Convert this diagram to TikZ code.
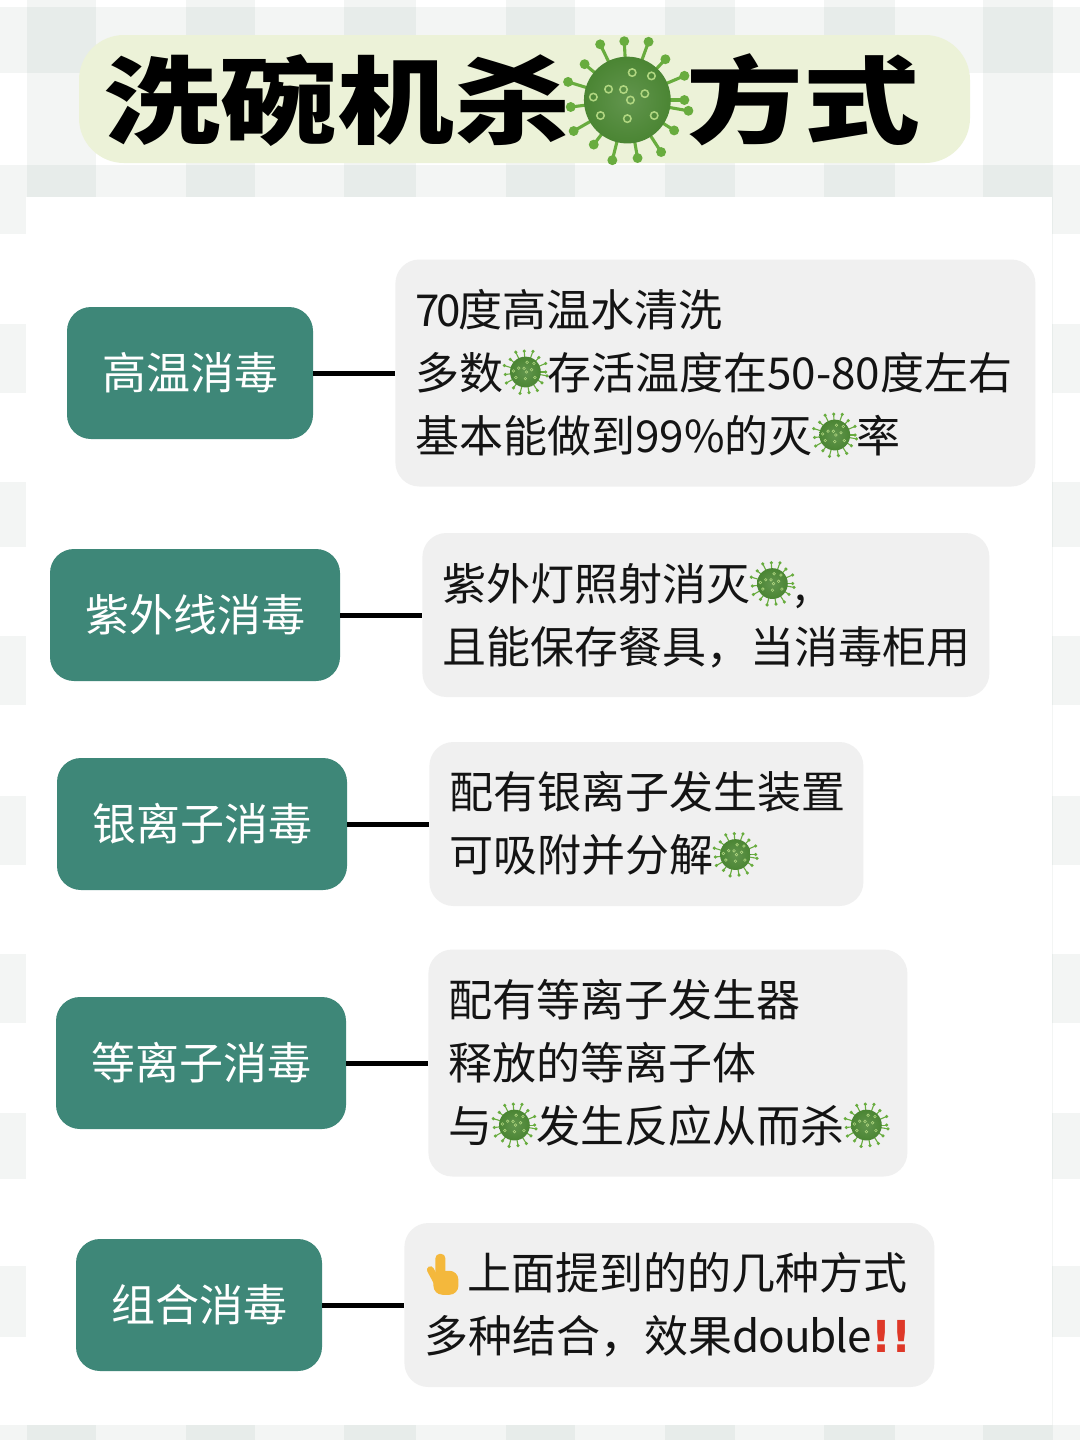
\documentclass[tikz,border=0pt]{standalone}
\definecolor{tealbox}{RGB}{62, 135, 120}
\definecolor{grayplate}{RGB}{240, 240, 240}
\definecolor{titleplate}{RGB}{236, 242, 216}
\definecolor{plaid}{RGB}{20, 70, 50}
\definecolor{inkblack}{RGB}{20, 20, 20}
\definecolor{virusmid}{RGB}{70, 130, 46}
\definecolor{viruslight}{RGB}{104, 172, 62}
\definecolor{virusring}{RGB}{176, 214, 128}
\definecolor{alertred}{RGB}{222, 56, 40}
\definecolor{fingergold}{RGB}{244, 184, 60}
\usepackage{fontspec}
\setmainfont{Noto Sans CJK SC}
\newfontfamily\titlefont[FakeStretch=1.23]{Noto Sans CJK SC Black}
\newfontfamily\tightfont[LetterSpace=-2.5]{Noto Sans CJK SC}
\newfontfamily\symbolfont{DejaVu Sans Bold}
\usetikzlibrary{positioning}
\pgfdeclareradialshading{germball}{\pgfpointorigin}{color(0bp)=(virusmid!85!white); color(30bp)=(virusmid); color(43bp)=(virusmid!85!black); color(50bp)=(viruslight!70!white)}

% germ icon, #1 = raise against the baseline, #2 = radius of the spikes
\newcommand{\germ}[2][0.78]{\begin{tikzpicture}[x=#2pt, y=#2pt, baseline={-#1*#2pt}]
    \path[use as bounding box] (-1,-1) rectangle (1,1);
    \foreach \a/\r in {0/.92,23/1,47/.9,70/1,93/.95,116/1,140/.9,163/1,187/.92,210/1,233/.9,256/1,280/.95,303/1,327/.9,350/1}{
        \draw[viruslight, line width=#2*0.05pt] (\a:.6) -- (\a:\r);
        \fill[viruslight] (\a:\r) circle (.08);
    }
    \shade[shading=germball] (0,0) circle (.7);
    \foreach \a/\r in {20/.3,80/.45,150/.35,210/.5,270/.3,330/.5,0/.05,110/.18,45/.55,175/.55}{
        \draw[virusring, line width=#2*0.025pt] (\a:\r) circle (.06);
    }
\end{tikzpicture}}

% pointing hand
\newcommand{\fingerup}{\begin{tikzpicture}[x=1pt, y=1pt, baseline=0pt]
    \path[use as bounding box] (-2,-5) rectangle (41,36);
    \fill[fingergold, rounded corners=4.5pt] (9,12) rectangle (19,36);
    \fill[fingergold, rounded corners=9pt] (7,-5) rectangle (32,19);
    \draw[fingergold, line width=7pt, line cap=round] (4,20) -- (11,7);
\end{tikzpicture}}

\begin{document}
\begin{tikzpicture}[x=1pt, y=-1pt, node distance=82pt,
    every node/.style={font=\fontsize{44}{63}\selectfont},
    methodbox/.style={rectangle, rounded corners=24pt, fill=tealbox, text=white, minimum height=132pt, inner sep=0pt},
    detailbox/.style={rectangle, rounded corners=24pt, fill=grayplate, text=inkblack, inner xsep=20pt, inner ysep=0pt, align=left},
    link/.style={line width=5pt, color=black}]
    \useasboundingbox (0,0) rectangle (1080,1440);

    % Plaid backdrop
    \fill[white] (0,0) rectangle (1080,1440);
    \foreach \x/\w in {27/69,186/69,344/72,506/69,665/70,824/71,983/70}{
        \fill[plaid, opacity=0.05] (\x,0) rectangle (\x+\w,1440);
    }
    \foreach \y/\h in {7/66,165/69,324/69,482/65,636/69,796/69,954/69,1113/66,1266/71,1425/15}{
        \fill[plaid, opacity=0.05] (0,\y) rectangle (1080,\y+\h);
    }
    \fill[white] (26,197) rectangle (1052,1425);

    % Title
    \fill[titleplate] (79,35) [rounded corners=45pt] rectangle (970,163);
    \node[anchor=base, inner sep=0pt, font=\titlefont\fontsize{95}{95}\selectfont, text=black] (title) at (512,136) {洗碗机杀\kern-6pt\germ[0.58]{62}\kern-3pt方式};

    % Methods
    \node[methodbox, minimum width=246pt] (heat) at (190,373) {高温消毒};
    \node[methodbox, minimum width=290pt] (uv) at (195,615) {紫外线消毒};
    \node[methodbox, minimum width=290pt] (silver) at (202,824) {银离子消毒};
    \node[methodbox, minimum width=290pt] (plasma) at (201,1063) {等离子消毒};
    \node[methodbox, minimum width=246pt] (combo) at (199,1305) {组合消毒};

    % Details
    \node[detailbox, text width=600pt, minimum height=227pt, right=of heat] (heatnote) {7\kern-3pt 0\kern-3pt 度高温水清洗\\多数\germ{22}存活温度在50-80度左右\\基本能做到99\%的灭\germ{22}率};
    \node[detailbox, text width=527pt, minimum height=164pt, right=of uv] (uvnote) {紫外灯照射消灭\germ{22},\\且能保存餐具，当消毒柜用};
    \node[detailbox, text width=394pt, minimum height=164pt, right=of silver] (silvernote) {配有银离子发生装置\\可吸附并分解\germ{22}};
    \node[detailbox, text width=439pt, minimum height=227pt, right=of plasma] (plasmanote) {配有等离子发生器\\释放的等离子体\\与\germ{22}发生反应从而杀\germ{22}};
    \node[detailbox, text width=490pt, minimum height=164pt, right=of combo] (combonote) {\fingerup 上面提到的的几种方式\\多种结合，效果{\tightfont double}{\symbolfont\textcolor{alertred}{!!}}};

    % Links
    \draw[link] (heat) -- (heatnote);
    \draw[link] (uv) -- (uvnote);
    \draw[link] (silver) -- (silvernote);
    \draw[link] (plasma) -- (plasmanote);
    \draw[link] (combo) -- (combonote);
\end{tikzpicture}
\end{document}
